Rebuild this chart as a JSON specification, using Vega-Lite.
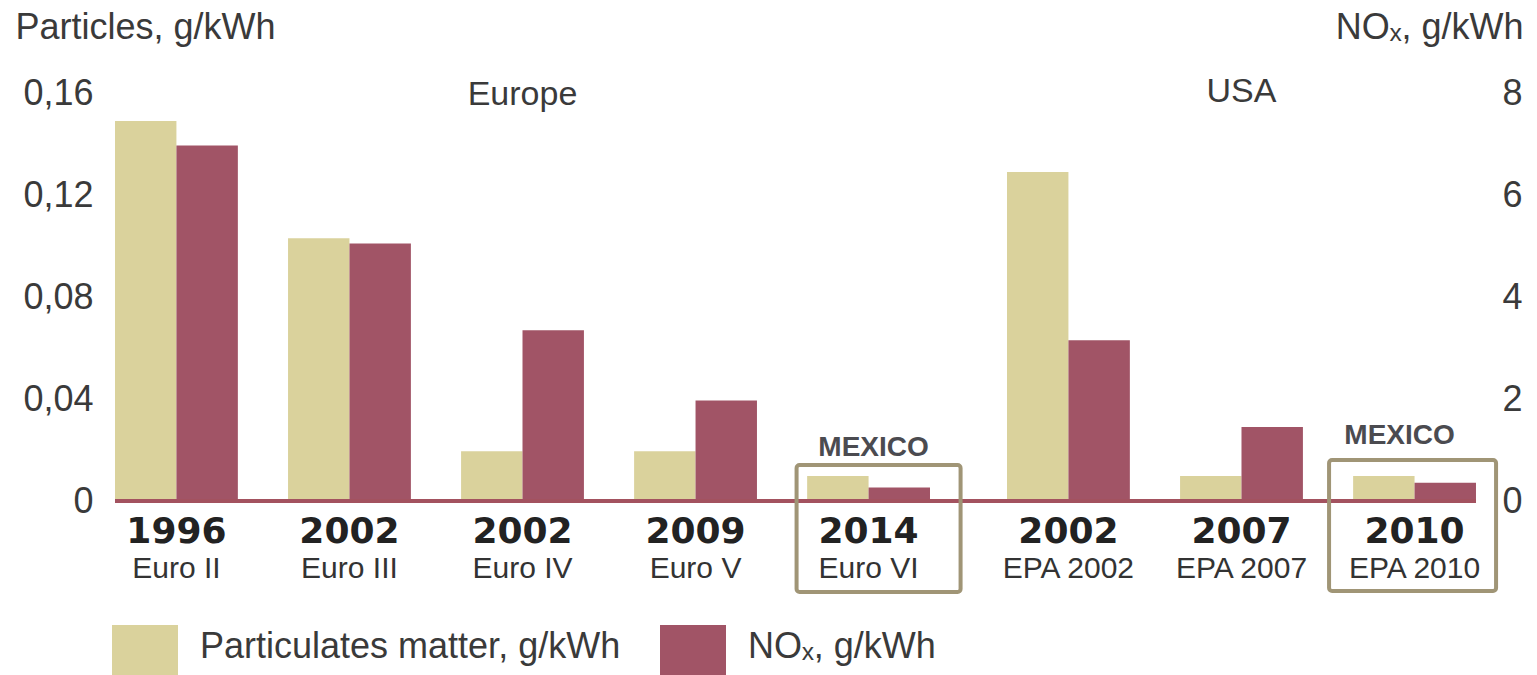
{
  "$schema": "https://vega.github.io/schema/vega-lite/v6.json",
  "padding": {"left": 15, "top": 9, "right": 5, "bottom": 0},
  "background": "white",
  "data": {"values": [
    {"region": "Europe", "std": "Euro II", "year": "1996", "series": "PM", "value": 0.149},
    {"region": "Europe", "std": "Euro II", "year": "1996", "series": "NOx", "value": 6.97},
    {"region": "Europe", "std": "Euro III", "year": "2002", "series": "PM", "value": 0.103},
    {"region": "Europe", "std": "Euro III", "year": "2002", "series": "NOx", "value": 5.05},
    {"region": "Europe", "std": "Euro IV", "year": "2002", "series": "PM", "value": 0.0195},
    {"region": "Europe", "std": "Euro IV", "year": "2002", "series": "NOx", "value": 3.35},
    {"region": "Europe", "std": "Euro V", "year": "2009", "series": "PM", "value": 0.0195},
    {"region": "Europe", "std": "Euro V", "year": "2009", "series": "NOx", "value": 1.97},
    {"region": "Europe", "std": "Euro VI", "year": "2014", "series": "PM", "value": 0.0098},
    {"region": "Europe", "std": "Euro VI", "year": "2014", "series": "NOx", "value": 0.265},
    {"region": "USA", "std": "EPA 2002", "year": "2002", "series": "PM", "value": 0.129},
    {"region": "USA", "std": "EPA 2002", "year": "2002", "series": "NOx", "value": 3.15},
    {"region": "USA", "std": "EPA 2007", "year": "2007", "series": "PM", "value": 0.0098},
    {"region": "USA", "std": "EPA 2007", "year": "2007", "series": "NOx", "value": 1.45},
    {"region": "USA", "std": "EPA 2010", "year": "2010", "series": "PM", "value": 0.0098},
    {"region": "USA", "std": "EPA 2010", "year": "2010", "series": "NOx", "value": 0.36}
  ]},
  "spacing": 0,
  "bounds": "flush",
  "hconcat": [
    {
      "width": 892,
      "height": 408,
      "transform": [{"filter": "datum.region == 'Europe'"}],
      "layer": [
        {
          "transform": [{"filter": "datum.series == 'PM'"}],
          "mark": {"type": "bar"},
          "encoding": {
            "x": {"field": "std", "type": "nominal", "axis": null,
                  "scale": {"domain": ["Euro II", "Euro III", "Euro IV", "Euro V", "Euro VI"], "paddingInner": 0.29, "paddingOuter": 0.2225, "align": 0}},
            "xOffset": {"field": "series", "type": "nominal", "scale": {"domain": ["PM", "NOx"], "paddingInner": 0, "paddingOuter": 0}},
            "y": {"field": "value", "type": "quantitative",
                  "scale": {"domain": [0, 0.16], "nice": false},
                  "axis": {"orient": "left", "values": [0, 0.04, 0.08, 0.12, 0.16],
                           "labelExpr": "datum.value == 0 ? '0' : replace(format(datum.value, '.2f'), '.', ',')",
                           "domain": false, "ticks": false, "grid": false,
                           "labelPadding": 22, "labelFontSize": 36, "labelFont": "Liberation Sans", "labelColor": "#3a3a3a",
                           "labelBaseline": "middle",
                           "title": "Particles, g/kWh", "titleAngle": 0, "titleAlign": "left", "titleBaseline": "alphabetic",
                           "titleX": -100, "titleY": -55, "titleFontSize": 36, "titleFont": "Liberation Sans",
                           "titleFontWeight": "normal", "titleColor": "#3a3a3a"}},
            "color": {"field": "series", "type": "nominal",
                      "scale": {"domain": ["PM", "NOx"], "range": ["#dad29c", "#a15466"]},
                      "legend": {"orient": "none", "legendX": -3, "legendY": 532, "direction": "horizontal", "title": null,
                                 "labelExpr": "datum.label == 'PM' ? 'Particulates matter, g/kWh' : 'NOₓ, g/kWh'",
                                 "symbolType": "square", "symbolSize": 4356, "symbolStrokeWidth": 0, "symbolOpacity": 1,
                                 "labelFontSize": 36, "labelFont": "Liberation Sans", "labelColor": "#3a3a3a",
                                 "labelBaseline": "alphabetic",
                                 "labelOffset": 22, "columnPadding": 39, "labelLimit": 700}}
          }
        },
        {
          "transform": [{"filter": "datum.series == 'NOx'"}],
          "mark": {"type": "bar"},
          "encoding": {
            "x": {"field": "std", "type": "nominal", "axis": null},
            "xOffset": {"field": "series", "type": "nominal"},
            "y": {"field": "value", "type": "quantitative", "scale": {"domain": [0, 8], "nice": false}, "axis": null},
            "color": {"field": "series", "type": "nominal"}
          }
        },
        {
          "transform": [{"filter": "datum.series == 'PM' && datum.std == 'Euro II'"}],
          "mark": {"type": "rule", "color": "#a3525f", "strokeWidth": 4},
          "encoding": {"y": {"datum": 0, "type": "quantitative", "scale": {"domain": [0, 0.16], "nice": false}, "axis": null}}
        },
        {
          "transform": [{"filter": "datum.series == 'PM'"}],
          "mark": {"type": "text", "baseline": "alphabetic", "dy": 42, "font": "DejaVu Sans", "fontWeight": "bold", "fontSize": 36, "color": "#222222"},
          "encoding": {"x": {"field": "std", "type": "nominal"},
                       "y": {"datum": 0, "type": "quantitative", "scale": {"domain": [0, 0.16], "nice": false}, "axis": null},
                       "text": {"field": "year"}}
        },
        {
          "transform": [{"filter": "datum.series == 'PM'"}],
          "mark": {"type": "text", "baseline": "alphabetic", "dy": 77, "font": "Liberation Sans", "fontSize": 30, "color": "#333333"},
          "encoding": {"x": {"field": "std", "type": "nominal"},
                       "y": {"datum": 0, "type": "quantitative", "scale": {"domain": [0, 0.16], "nice": false}, "axis": null},
                       "text": {"field": "std"}}
        },
        {
          "transform": [{"filter": "datum.series == 'PM' && datum.std == 'Euro IV'"}],
          "mark": {"type": "text", "baseline": "alphabetic", "dy": 12, "font": "Liberation Sans", "fontSize": 34, "color": "#3a3a3a", "text": "Europe"},
          "encoding": {"x": {"field": "std", "type": "nominal"},
                       "y": {"datum": 0.16, "type": "quantitative", "scale": {"domain": [0, 0.16], "nice": false}, "axis": null}}
        },
        {
          "transform": [{"filter": "datum.series == 'PM' && datum.std == 'Euro VI'"}],
          "mark": {"type": "bar", "filled": false, "stroke": "#a09576", "strokeWidth": 4, "cornerRadius": 3, "width": 164, "xOffset": 10},
          "encoding": {"x": {"field": "std", "type": "nominal"},
                       "y": {"datum": 0.0141, "type": "quantitative", "scale": {"domain": [0, 0.16], "nice": false}, "axis": null},
                       "y2": {"datum": -0.0357}}
        },
        {
          "transform": [{"filter": "datum.series == 'PM' && datum.std == 'Euro VI'"}],
          "mark": {"type": "text", "baseline": "alphabetic", "dx": 5, "dy": -45, "font": "Liberation Sans", "fontWeight": "bold", "fontSize": 28, "color": "#4b4b50", "text": "MEXICO"},
          "encoding": {"x": {"field": "std", "type": "nominal"},
                       "y": {"datum": 0, "type": "quantitative", "scale": {"domain": [0, 0.16], "nice": false}, "axis": null}}
        }
      ],
      "resolve": {"scale": {"y": "independent"}}
    },
    {
      "width": 469,
      "height": 408,
      "transform": [{"filter": "datum.region == 'USA'"}],
      "layer": [
        {
          "transform": [{"filter": "datum.series == 'PM'"}],
          "mark": {"type": "bar"},
          "encoding": {
            "x": {"field": "std", "type": "nominal", "axis": null,
                  "scale": {"domain": ["EPA 2002", "EPA 2007", "EPA 2010"], "paddingInner": 0.29, "paddingOuter": 0, "align": 1}},
            "xOffset": {"field": "series", "type": "nominal", "scale": {"domain": ["PM", "NOx"], "paddingInner": 0, "paddingOuter": 0}},
            "y": {"field": "value", "type": "quantitative", "scale": {"domain": [0, 0.16], "nice": false}, "axis": null},
            "color": {"field": "series", "type": "nominal"}
          }
        },
        {
          "transform": [{"filter": "datum.series == 'NOx'"}],
          "mark": {"type": "bar"},
          "encoding": {
            "x": {"field": "std", "type": "nominal", "axis": null},
            "xOffset": {"field": "series", "type": "nominal"},
            "y": {"field": "value", "type": "quantitative", "scale": {"domain": [0, 8], "nice": false},
                  "axis": {"orient": "right", "values": [0, 2, 4, 6, 8],
                           "domain": false, "ticks": false, "grid": false,
                           "labelPadding": 26, "labelFontSize": 36, "labelFont": "Liberation Sans", "labelColor": "#3a3a3a",
                           "labelBaseline": "middle",
                           "title": "NOₓ, g/kWh", "titleAngle": 0, "titleAlign": "right", "titleBaseline": "alphabetic",
                           "titleX": 47, "titleY": -55, "titleFontSize": 36, "titleFont": "Liberation Sans",
                           "titleFontWeight": "normal", "titleColor": "#3a3a3a"}},
            "color": {"field": "series", "type": "nominal"}
          }
        },
        {
          "transform": [{"filter": "datum.series == 'PM' && datum.std == 'EPA 2002'"}],
          "mark": {"type": "rule", "color": "#a3525f", "strokeWidth": 4},
          "encoding": {"y": {"datum": 0, "type": "quantitative", "scale": {"domain": [0, 0.16], "nice": false}, "axis": null}}
        },
        {
          "transform": [{"filter": "datum.series == 'PM'"}],
          "mark": {"type": "text", "baseline": "alphabetic", "dy": 42, "font": "DejaVu Sans", "fontWeight": "bold", "fontSize": 36, "color": "#222222"},
          "encoding": {"x": {"field": "std", "type": "nominal"},
                       "y": {"datum": 0, "type": "quantitative", "scale": {"domain": [0, 0.16], "nice": false}, "axis": null},
                       "text": {"field": "year"}}
        },
        {
          "transform": [{"filter": "datum.series == 'PM'"}],
          "mark": {"type": "text", "baseline": "alphabetic", "dy": 77, "font": "Liberation Sans", "fontSize": 30, "color": "#333333"},
          "encoding": {"x": {"field": "std", "type": "nominal"},
                       "y": {"datum": 0, "type": "quantitative", "scale": {"domain": [0, 0.16], "nice": false}, "axis": null},
                       "text": {"field": "std"}}
        },
        {
          "transform": [{"filter": "datum.series == 'PM' && datum.std == 'EPA 2007'"}],
          "mark": {"type": "text", "baseline": "alphabetic", "dy": 9, "font": "Liberation Sans", "fontSize": 34, "color": "#3a3a3a", "text": "USA"},
          "encoding": {"x": {"field": "std", "type": "nominal"},
                       "y": {"datum": 0.16, "type": "quantitative", "scale": {"domain": [0, 0.16], "nice": false}, "axis": null}}
        },
        {
          "transform": [{"filter": "datum.series == 'PM' && datum.std == 'EPA 2010'"}],
          "mark": {"type": "bar", "filled": false, "stroke": "#a09576", "strokeWidth": 4, "cornerRadius": 3, "width": 167, "xOffset": -2},
          "encoding": {"x": {"field": "std", "type": "nominal"},
                       "y": {"datum": 0.0161, "type": "quantitative", "scale": {"domain": [0, 0.16], "nice": false}, "axis": null},
                       "y2": {"datum": -0.0353}}
        },
        {
          "transform": [{"filter": "datum.series == 'PM' && datum.std == 'EPA 2010'"}],
          "mark": {"type": "text", "baseline": "alphabetic", "dx": -15, "dy": -57, "font": "Liberation Sans", "fontWeight": "bold", "fontSize": 28, "color": "#4b4b50", "text": "MEXICO"},
          "encoding": {"x": {"field": "std", "type": "nominal"},
                       "y": {"datum": 0, "type": "quantitative", "scale": {"domain": [0, 0.16], "nice": false}, "axis": null}}
        }
      ],
      "resolve": {"scale": {"y": "independent"}}
    }
  ],
  "config": {"view": {"stroke": null}, "font": "Liberation Sans"}
}
